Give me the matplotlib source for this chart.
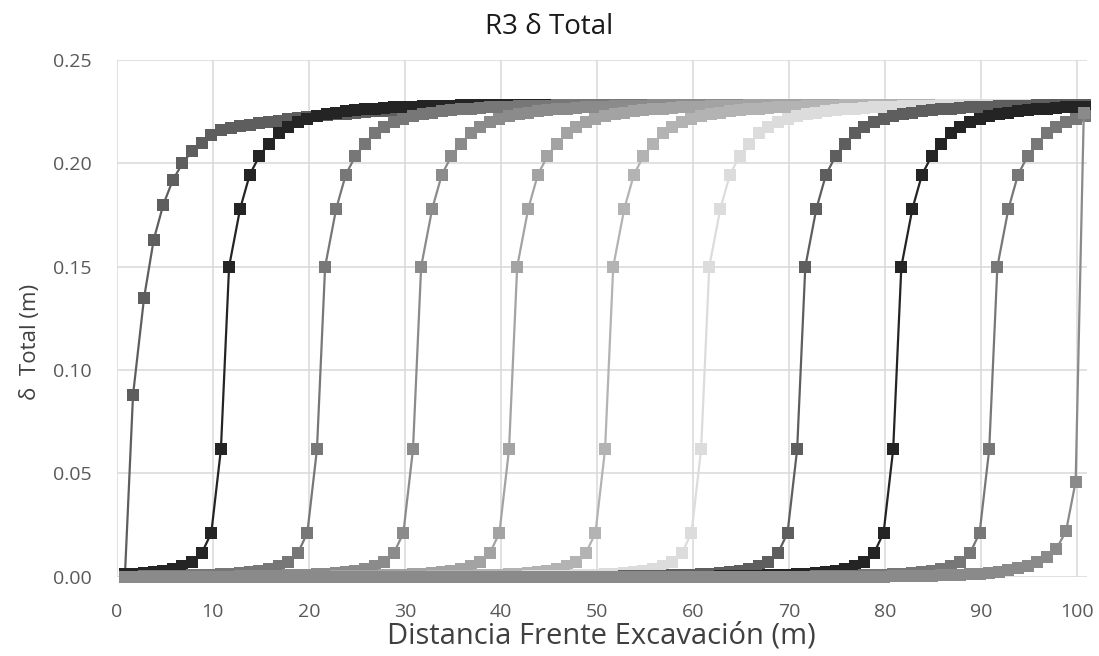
import numpy as np
import matplotlib
matplotlib.use("Agg")
import matplotlib.pyplot as plt

# ---------------- data ----------------
titulo = "R3 δ Total"
etiqueta_x = "Distancia Frente Excavación (m)"
etiqueta_y = "δ  Total (m)"
ticks_x = [0, 10, 20, 30, 40, 50, 60, 70, 80, 90, 100]
ticks_y = [0.00, 0.05, 0.10, 0.15, 0.20, 0.25]

# measurement nodes along the tunnel (m), 1 m spacing
nodos = np.round(np.arange(0.85, 101.0, 1.0), 2)

# excavation face position of every stage (m)
frentes = [1, 11, 21, 31, 41, 51, 61, 71, 81, 91, 100]

colores = ["#5e5e5e", "#242424", "#777777", "#8b8b8b", "#a3a3a3", "#b3b3b3",
           "#dcdcdc", "#5e5e5e", "#242424", "#777777", "#8a8a8a"]

# stage 1 (face at 1 m): delta at every node
serie_1 = [0.0, 0.088, 0.135, 0.163, 0.180, 0.192, 0.200, 0.206, 0.210, 0.2136,
           0.2160, 0.2172, 0.2180, 0.2187, 0.2194, 0.2200, 0.2207, 0.2213, 0.2219, 0.2224,
           0.2229, 0.2233, 0.2237, 0.2241, 0.2245, 0.2248, 0.2251, 0.2254, 0.2257, 0.2260,
           0.2262, 0.2264, 0.2266, 0.2268, 0.2270, 0.2272, 0.2273, 0.2274, 0.2275, 0.2276,
           0.2277, 0.2278, 0.2278, 0.2279, 0.2279, 0.2280, 0.2280, 0.2280, 0.2281, 0.2281,
           0.2281, 0.2281, 0.2282, 0.2282, 0.2282, 0.2282, 0.2282, 0.2282, 0.2282, 0.2282,
           0.2282, 0.2282, 0.2282, 0.2282, 0.2282, 0.2282, 0.2282, 0.2282, 0.2282, 0.2282,
           0.2282, 0.2282, 0.2282, 0.2282, 0.2282, 0.2282, 0.2282, 0.2282, 0.2282, 0.2282,
           0.2282, 0.2282, 0.2282, 0.2282, 0.2282, 0.2282, 0.2282, 0.2282, 0.2282, 0.2282,
           0.2282, 0.2282, 0.2282, 0.2282, 0.2282, 0.2282, 0.2282, 0.2282, 0.2282, 0.2282,
           0.2282]

# stages 2-10: delta ahead of the face (node F-0.15, F-1.15, ...)
antes_frente = [0.0616, 0.0212, 0.0113, 0.0070, 0.0050, 0.0037, 0.0028, 0.0022, 0.0017, 0.0014,
                0.0011, 0.0009, 0.0007, 0.0006, 0.0005, 0.0004, 0.0003, 0.0002, 0.0001, 0.0]
# stages 2-10: delta behind the face (node F+0.7, F+1.85, F+2.85, ...)
tras_frente = [0.150, 0.178, 0.1945, 0.2035, 0.2096, 0.2145, 0.2174, 0.2198, 0.2215, 0.2228,
               0.2238, 0.2246, 0.2252, 0.2257, 0.2261, 0.2265, 0.2268, 0.2271, 0.2273, 0.2275,
               0.2276, 0.2277, 0.2278, 0.2279, 0.2280, 0.2280, 0.2281, 0.2281, 0.2281, 0.2282,
               0.2282, 0.2282, 0.2282, 0.2282, 0.2282, 0.2282, 0.2282, 0.2282, 0.2282, 0.2282,
               0.2282, 0.2282, 0.2282, 0.2282, 0.2282, 0.2282, 0.2282, 0.2282, 0.2282, 0.2282,
               0.2282, 0.2282, 0.2282, 0.2282, 0.2282, 0.2282, 0.2282, 0.2282, 0.2282, 0.2282,
               0.2282, 0.2282, 0.2282, 0.2282, 0.2282, 0.2282, 0.2282, 0.2282, 0.2282, 0.2282,
               0.2282, 0.2282, 0.2282, 0.2282, 0.2282, 0.2282, 0.2282, 0.2282, 0.2282, 0.2282,
               0.2282, 0.2282, 0.2282, 0.2282, 0.2282, 0.2282, 0.2282, 0.2282, 0.2282, 0.2282]

# last stage (face at 100 m)
antes_ultima = [0.046, 0.022, 0.0135, 0.0095, 0.0070, 0.0052, 0.0040, 0.0031, 0.0024, 0.0019,
                0.0015, 0.0012, 0.0010, 0.0008, 0.0006, 0.0005, 0.0004, 0.0003, 0.0002, 0.0001, 0.0]
tras_ultima = [0.2245]


def construir(frente, antes, tras):
    xs, ys = [], []
    for i, x in enumerate(nodos):
        if x < frente:
            j = frente - 1 - i
            ys.append(antes[j] if j < len(antes) else 0.0)
            xs.append(x)
        else:
            j = i - frente
            if j >= len(tras):
                break
            xs.append(frente + 0.7 if j == 0 else x)
            ys.append(tras[j])
    return xs, ys


series = []
x1 = [nodos[0], 1.7] + list(nodos[2:])
series.append((x1, serie_1))
for f in frentes[1:-1]:
    series.append(construir(f, antes_frente, tras_frente))
series.append(construir(frentes[-1], antes_ultima, tras_ultima))

# ---------------- figure ----------------
plt.rcParams['font.family'] = ['Open Sans', 'DejaVu Sans']
fig = plt.figure(figsize=(10.99, 6.56), dpi=100)
ax = fig.add_axes([0.1062, 0.1210, 0.8826, 0.7875])

for (xs, ys), c in zip(series, colores):
    ax.plot(xs, ys, color=c, lw=1.6, marker='s', ms=8.3, mec=c, mew=0,
            mfc=c, clip_on=False, zorder=3)

ax.set_xlim(0, 101)
ax.set_ylim(0, 0.25)
ax.set_xticks(ticks_x)
ax.set_yticks(ticks_y)
ax.set_yticklabels([f"{v:.2f}" for v in ticks_y])
ax.grid(True, color="#d9d9d9", lw=1.1, zorder=0)
for s in ax.spines.values():
    s.set_visible(False)
ax.tick_params(length=0, labelsize=14, colors="#595959")
ax.tick_params(axis='y', pad=18)
ax.tick_params(axis='x', pad=19)

fig.text(0.5, 1 - 27 / 656, titulo, fontsize=20, color="#1a1a1a",
         ha="center", va="center")
ax.set_xlabel(etiqueta_x, fontsize=21, color="#404040", labelpad=0)
ax.set_ylabel(etiqueta_y, fontsize=16, color="#404040")
ax.yaxis.set_label_coords(41 / 1099, 1 - 342 / 656, transform=fig.transFigure)

fig.savefig("out.png", dpi=100, facecolor="white")
